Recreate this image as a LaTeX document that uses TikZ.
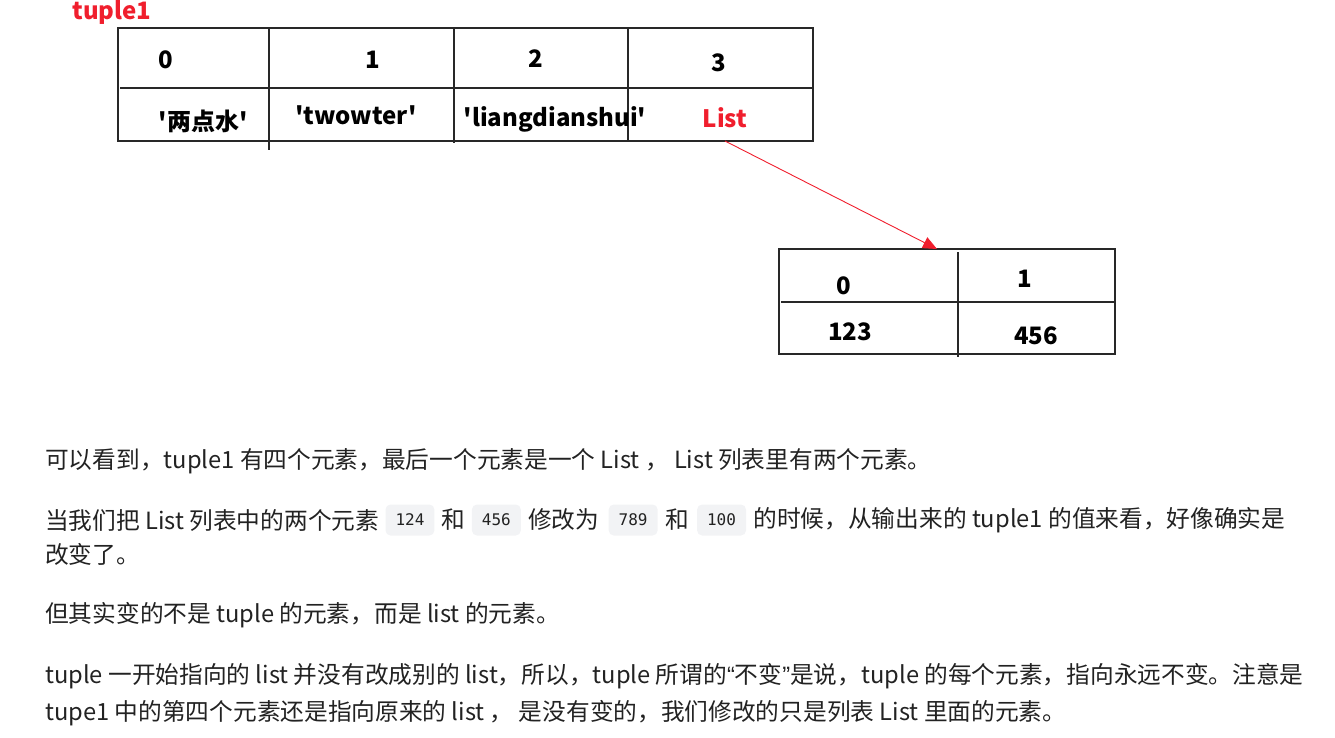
\documentclass[tikz,border=0pt]{standalone}
\usepackage{fontspec}
\setmainfont{Noto Sans CJK SC}
\setmonofont{DejaVu Sans Mono}
\newfontfamily\quotefont{Liberation Sans}
\usetikzlibrary{arrows.meta,positioning}
\definecolor{tablegray}{RGB}{40,40,40}
\definecolor{listred}{RGB}{240,30,45}
\definecolor{codefill}{RGB}{242,243,245}
\definecolor{bodytext}{RGB}{34,34,34}

\begin{document}
\begin{tikzpicture}[x=1pt,y=-1pt,
  grid/.style={draw=tablegray,line width=1.6pt},
  cell/.style={font=\fontsize{24}{28}\selectfont\bfseries,text=black,inner sep=0pt},
  line/.style={font=\fontsize{23.7}{28}\selectfont,text=bodytext,inner sep=0pt,anchor=west},
  code/.style={font=\ttfamily\fontsize{16}{18}\selectfont,fill=codefill,rounded corners=5pt,
    minimum height=31pt,inner xsep=10pt,text=bodytext,anchor=west},
  ptr/.style={draw=listred,line width=0.9pt,-{Triangle[length=14pt,width=12pt]}}]

  \useasboundingbox (0,0) rectangle (1335,737);

  % tuple1 table
  \node[cell,text=listred] (tname) at (112,12) {tuple1};
  \draw[grid] (118,28) rectangle (813,141);
  \draw[grid] (120,88) -- (813,88);
  \draw[grid] (269,28) -- (269,150);
  \draw[grid] (454,28) -- (454,143);
  \draw[grid] (628,28) -- (628,141);

  \node[cell] (t0) at (166,60) {0};
  \node[cell] (t1) at (373,60) {1};
  \node[cell] (t2) at (536,59) {2};
  \node[cell] (t3) at (719,63) {3};
  \node[cell] (v0) at (203,121) {\textquotesingle 两点水\textquotesingle};
  \node[cell] (v1) at (356,115) {\textquotesingle twowter\textquotesingle};
  \node[cell] (v2) at (555,119) {\textquotesingle liangdianshui\textquotesingle};
  \node[cell,text=listred] (v3) at (725,118) {List};

  % list table
  \node[grid,minimum width=336pt,minimum height=105pt,inner sep=0pt] (ltab) at (947,301.5) {};
  \draw[grid] (781,302) -- (1115,302);
  \draw[grid] (958,252) -- (958,357);

  \node[cell] (l0) at (844,286) {0};
  \node[cell] (l1) at (1025,279) {1};
  \node[cell] (w0) at (850,332) {123};
  \node[cell] (w1) at (1036,336) {456};

  % pointer
  \coordinate (listfoot) at (725,141);
  \coordinate (listhead) at (937,249);
  \draw[ptr] (listfoot) -- (listhead);

  % notes
  \node[line] (p1) at (45,461) {可以看到，tuple1 有四个元素，最后一个元素是一个 List ， List 列表里有两个元素。};
  \node[line] (p2a) at (45,520) {当我们把 List 列表中的两个元素};
  \node[code,right=6pt of p2a] (c1) {124};
  \node[line,right=7pt of c1] (p2b) {和};
  \node[code,right=6pt of p2b] (c2) {456};
  \node[line,right=7pt of c2] (p2c) {修改为};
  \node[code,right=9pt of p2c] (c3) {789};
  \node[line,right=7pt of c3] (p2d) {和};
  \node[code,right=8pt of p2d] (c4) {100};
  \node[line,right=7pt of c4] (p2e) {的时候，从输出来的 tuple1 的值来看，好像确实是};
  \node[line] (p3) at (45,554) {改变了。};
  \node[line] (p4) at (45,615) {但其实变的不是 tuple 的元素，而是 list 的元素。};
  \node[line] (p5) at (45,676) {tuple 一开始指向的 list 并没有改成别的 list，所以，tuple 所谓的{\quotefont “}不变{\quotefont ”}是说，tuple 的每个元素，指向永远不变。注意是};
  \node[line] (p6) at (45,713) {tupe1 中的第四个元素还是指向原来的 list ， 是没有变的，我们修改的只是列表 List 里面的元素。};
\end{tikzpicture}
\end{document}
